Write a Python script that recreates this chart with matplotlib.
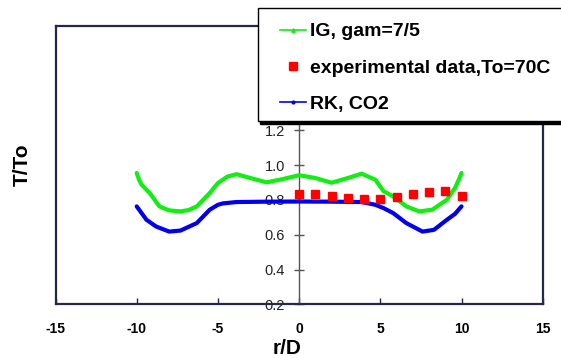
import matplotlib
matplotlib.use("Agg")
import matplotlib.pyplot as plt
from matplotlib.lines import Line2D
from matplotlib.legend_handler import HandlerLine2D
from matplotlib.patches import Rectangle

plt.rcParams['font.family'] = ['Liberation Sans', 'DejaVu Sans']

# ---- data ----
ig_x = [-10, -9.85, -9.7, -9.2, -8.6, -8.0, -7.3, -6.8, -6.3, -5.5, -5.0, -4.4,
        -3.85, -3.0, -2.0, -1.0, 0, 1.0, 2.0, 3.0, 3.85, 4.7, 5.2, 5.8, 6.6,
        7.4, 8.2, 9.1, 9.6, 9.85, 10]
ig_y = [0.955, 0.915, 0.888, 0.84, 0.763, 0.74, 0.734, 0.742, 0.763, 0.84,
        0.897, 0.935, 0.948, 0.926, 0.901, 0.92, 0.942, 0.926, 0.899, 0.926,
        0.951, 0.916, 0.85, 0.82, 0.763, 0.734, 0.744, 0.801, 0.869, 0.92, 0.955]

rk_x = [-10, -9.4, -8.8, -8.0, -7.3, -6.3, -5.5, -5.0, -4.7, -3.85, -2, 0, 2,
        3.85, 4.7, 5.2, 5.8, 6.6, 7.6, 8.3, 9.1, 9.6, 10]
rk_y = [0.763, 0.686, 0.647, 0.618, 0.624, 0.667, 0.744, 0.772, 0.78, 0.788,
        0.79, 0.791, 0.79, 0.788, 0.772, 0.753, 0.724, 0.667, 0.618, 0.628,
        0.686, 0.72, 0.763]

exp_x = [0, 1, 2, 3, 4, 5, 6, 7, 8, 9, 10]
exp_y = [0.834, 0.834, 0.824, 0.814, 0.807, 0.805, 0.815, 0.834, 0.845, 0.849, 0.824]

labels = ["IG, gam=7/5", "experimental data,To=70C", "RK, CO2"]
x_ticks = [-15, -10, -5, 0, 5, 10, 15]
y_ticks = [0.2, 0.4, 0.6, 0.8, 1.0, 1.2, 1.4, 1.6, 1.8]

green = '#11ee11'
blue = '#0000ee'
red = '#ff0000'
frame_c = '#26264f'

W, H = 561, 358
fig = plt.figure(figsize=(W / 100, H / 100), dpi=100)
ax = fig.add_axes([55.5 / W, 1 - 304.3 / H, (542.7 - 55.5) / W, (304.3 - 26) / H])

ax.plot(ig_x, ig_y, color=green, lw=3.0, solid_capstyle='round', zorder=3)
ax.plot(rk_x, rk_y, color=blue, lw=3.0, solid_capstyle='round', zorder=3)
ax.plot(exp_x, exp_y, linestyle='none', marker='s', ms=5.2, color=red, mec=red, zorder=4)

ax.set_xlim(-15, 15)
ax.set_ylim(0.2, 1.8)

# frame
for s in ['top', 'right', 'bottom']:
    ax.spines[s].set_color(frame_c)
    ax.spines[s].set_linewidth(1.6)
ax.spines['left'].set_position(('data', 0))
ax.spines['left'].set_color('#555555')
ax.spines['left'].set_linewidth(1.0)
ax.add_line(Line2D([0, 0], [0, 1], transform=ax.transAxes, color=frame_c,
                   lw=1.6, clip_on=False, zorder=5))

ax.set_xticks(x_ticks)
ax.set_xticklabels([str(t) for t in x_ticks], fontweight='bold', fontsize=10)
ax.tick_params(axis='x', direction='in', length=4, width=1, color=frame_c, pad=13)

ax.set_yticks(y_ticks)
ax.set_yticklabels([f"{t:.1f}" for t in y_ticks], fontsize=10.5, color='#222222')
ax.tick_params(axis='y', direction='inout', length=7, width=1, color='#555555', pad=6.5)

ax.set_xlabel("r/D", fontsize=15, fontweight='bold')
ax.xaxis.label.set_va('center')
ax.xaxis.set_label_coords((287 - 55.5) / 487.2, (304.3 - 348) / 278.3)
ax.set_ylabel("T/To", fontsize=15, fontweight='bold')
ax.yaxis.label.set_va('center')
ax.yaxis.set_label_coords((22 - 55.5) / 487.2, 0.5)


class ShiftHandler(HandlerLine2D):
    def __init__(self, shift, **kw):
        super().__init__(**kw)
        self.shift = shift

    def create_artists(self, legend, orig_handle, xdescent, ydescent, width,
                       height, fontsize, trans):
        return super().create_artists(legend, orig_handle, xdescent - self.shift,
                                      ydescent, width - self.shift, height,
                                      fontsize, trans)


fs = 14
fs_px = fs * 100 / 72
bpad = 0.75
shift = 278 - (258.3 + bpad * fs_px)
hlen = (306 - (258.3 + bpad * fs_px)) / fs_px

h_ig = Line2D([], [], color=green, lw=1.2, marker='^', ms=2.5)
h_exp = Line2D([], [], color=red, lw=0, marker='s', ms=5.2, linestyle='none')
h_rk = Line2D([], [], color=blue, lw=1.2, marker='o', ms=2)
hm = {h: ShiftHandler(shift, numpoints=1) for h in (h_ig, h_exp, h_rk)}

# legend box (drawn as patches so it can run off the right edge like the original)
box_l, box_t, box_r, box_b = 258.3, 8.3, 580, 120.7
fig.patches.append(Rectangle((box_l + 2 , H - box_b - 3.3), box_r - box_l, box_b - box_t,
                             transform=None, facecolor='black', edgecolor='black',
                             zorder=4.8))
fig.patches.append(Rectangle((box_l, H - box_b), box_r - box_l, box_b - box_t,
                             transform=None, facecolor='white', edgecolor='black',
                             lw=1.0, zorder=4.9))

leg = fig.legend([h_ig, h_exp, h_rk], labels, loc='upper left',
                 bbox_to_anchor=(258.3 / W, 1 - 8.3 / H), bbox_transform=fig.transFigure,
                 borderaxespad=0, borderpad=bpad, handlelength=hlen,
                 handletextpad=0.2, labelspacing=0.95, frameon=False,
                 prop={'weight': 'bold', 'size': fs}, handler_map=hm)
leg.set_zorder(5)

fig.savefig("out.png", dpi=100)
